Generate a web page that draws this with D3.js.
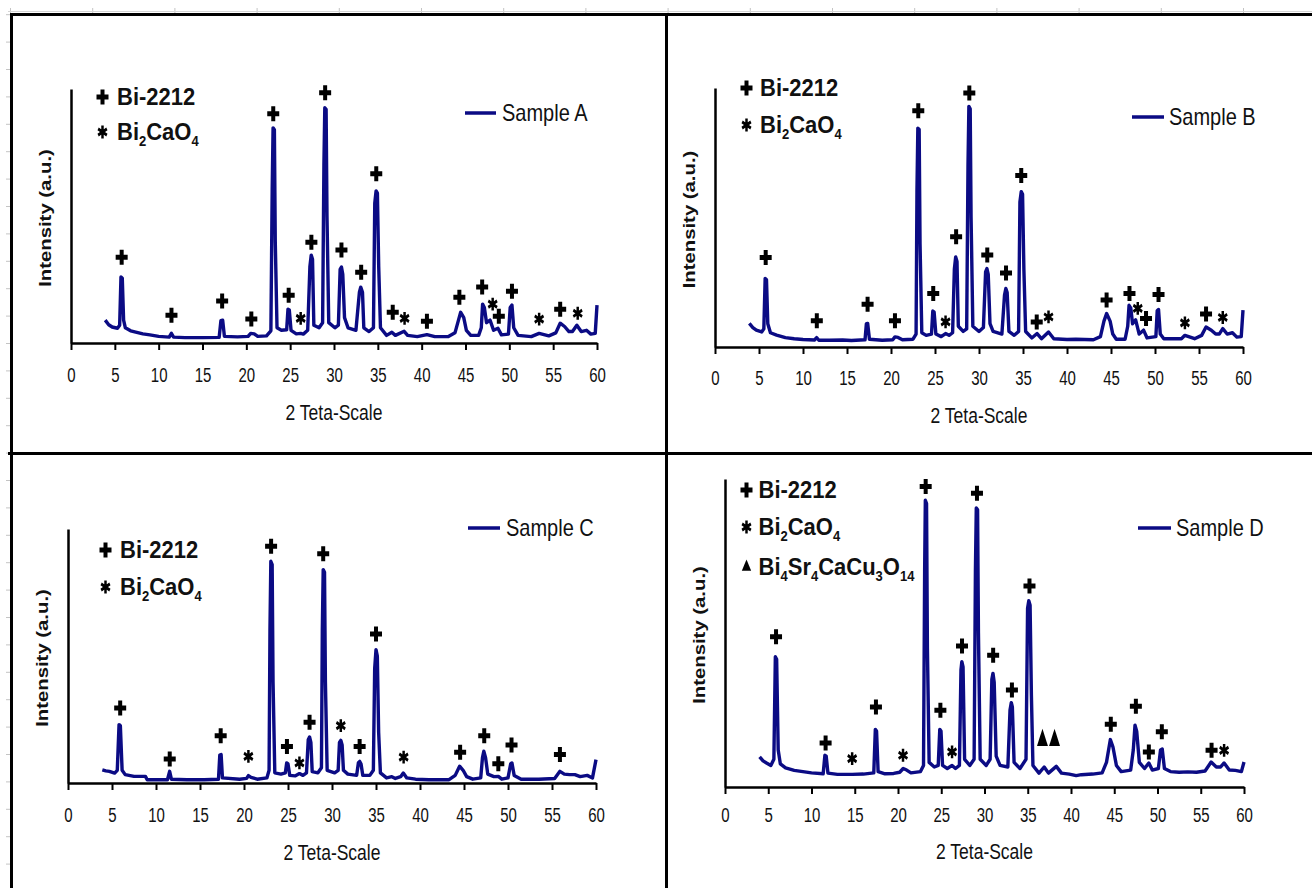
<!DOCTYPE html>
<html>
<head>
<meta charset="utf-8">
<script src="https://cdn.jsdelivr.net/npm/d3@7"></script>
<style>
  html, body { margin: 0; padding: 0; background: #fff; }
  svg { display: block; }
</style>
</head>
<body>
<div id="chart"></div>
<script>
// ---- data (2θ in degrees, intensity in a.u. 0-100 of each axis) ----
const tickValues = [0, 5, 10, 15, 20, 25, 30, 35, 40, 45, 50, 55, 60];
const sampleNames = ["Sample A", "Sample B", "Sample C", "Sample D"];
const xTitle = "2 Teta-Scale";
const yTitle = "Intensity (a.u.)";

const patternA = [
  [3.9, 9.0], [4.3, 7.2], [4.7, 6.3], [5.3, 5.8], [5.55, 7], [5.7, 26.0], [5.85, 25.5], [6.0, 9], [6.2, 6.0],
  [6.8, 4.8], [7.5, 4.2], [8.2, 3.6], [9.0, 3.2], [10.0, 2.6], [11.2, 2.3], [11.45, 3.8], [11.7, 2.3], [13, 2.1],
  [15, 2.1], [16.9, 2.2], [17.1, 8.8], [17.3, 9.0], [17.5, 2.6], [19, 2.4], [20.2, 2.6], [20.5, 3.8], [20.9, 3.6],
  [21.3, 2.6], [22.3, 2.8], [22.8, 4.8], [22.95, 60], [23.05, 84.7], [23.2, 84], [23.3, 40], [23.5, 6], [24.0, 5],
  [24.6, 5.2], [24.75, 13.3], [24.9, 13], [25.1, 5], [25.7, 3.6], [26.2, 3.8], [26.5, 3.5], [27.0, 5], [27.25, 30],
  [27.4, 34.6], [27.55, 33], [27.7, 7], [28.3, 6], [28.7, 8], [28.85, 70], [28.95, 92.6], [29.1, 92], [29.2, 50],
  [29.4, 8], [30.1, 6], [30.5, 7], [30.7, 29], [30.85, 29.9], [31.0, 27], [31.2, 10], [31.6, 6], [32.5, 5],
  [32.9, 20], [33.05, 22.0], [33.25, 20], [33.4, 6], [34.0, 4.5], [34.5, 6], [34.65, 55], [34.8, 59.9], [34.95, 59],
  [35.1, 30], [35.3, 6], [36.0, 3], [36.6, 4.2], [37.0, 3], [38.0, 4.6], [38.4, 3], [39.5, 2.5], [40.6, 3.3],
  [41.5, 2.5], [43.0, 2.5], [43.8, 4], [44.2, 9], [44.45, 12.1], [44.8, 10], [45.1, 5], [45.6, 3], [46.5, 3],
  [46.8, 6], [46.95, 15.3], [47.15, 14], [47.4, 8], [47.8, 9], [48.2, 5], [48.7, 5.8], [49.1, 3.2], [49.9, 3.5],
  [50.1, 14], [50.3, 14.9], [50.5, 6], [51, 3], [52.5, 2.5], [53.4, 3.8], [54.5, 2.8], [55.3, 4], [55.8, 7.8],
  [56.3, 6.5], [56.8, 4.5], [57.2, 4.5], [57.7, 7], [58.2, 4.5], [58.8, 5], [59.3, 3.5], [59.8, 3.8], [60.0, 14.9]
];
const markersA = [
  [5.78, 33.8, "+"], [11.46, 10.9, "+"], [17.24, 16.5, "+"], [20.57, 9.4, "+"], [23.07, 90.3, "+"],
  [24.83, 18.8, "+"], [26.2, 9.7, "*"], [27.42, 39.7, "+"], [28.99, 98.5, "+"], [30.85, 36.6, "+"],
  [33.1, 27.9, "+"], [34.82, 66.6, "+"], [36.7, 12.1, "+"], [38.05, 9.7, "*"], [40.6, 8.6, "+"],
  [44.3, 18.0, "+"], [46.9, 22.0, "+"], [48.1, 15.3, "*"], [48.8, 10.5, "+"], [50.3, 20.4, "+"],
  [53.4, 9.4, "*"], [55.8, 13.3, "+"], [57.8, 11.7, "*"]
];

const patternB = [
  [3.9, 9.1], [4.3, 7.5], [4.7, 6.5], [5.3, 5.8], [5.55, 7], [5.7, 26.5], [5.85, 26], [6.0, 9], [6.3, 5.5],
  [7, 4.6], [8, 3.6], [9, 3.2], [10, 2.9], [11.3, 2.7], [11.55, 3.6], [11.8, 2.6], [13, 2.6], [14.5, 2.7],
  [15.5, 2.5], [17.05, 2.8], [17.2, 8.9], [17.35, 9.1], [17.55, 3], [19, 2.6], [20.2, 2.8], [20.45, 3.9],
  [20.8, 3.7], [21.3, 2.8], [22.5, 3], [22.85, 5], [22.95, 60], [23.05, 84.5], [23.2, 84], [23.3, 40], [23.5, 5.5],
  [24.0, 4.5], [24.6, 5], [24.75, 13.9], [24.9, 13.5], [25.1, 5], [25.7, 4], [26.2, 5.2], [26.6, 4.5], [27.0, 5.5],
  [27.2, 30], [27.35, 34.8], [27.5, 33], [27.65, 8], [28.2, 6], [28.6, 7], [28.75, 70], [28.85, 92.9], [29.0, 92],
  [29.1, 50], [29.3, 8], [30.0, 6], [30.5, 7.5], [30.75, 29], [30.9, 30.3], [31.05, 28], [31.25, 9], [31.6, 6],
  [32.6, 5], [32.9, 20], [33.05, 22.6], [33.2, 21], [33.4, 6], [34.0, 4.5], [34.5, 6], [34.65, 56], [34.8, 60.0],
  [34.95, 59], [35.1, 30], [35.3, 6], [36.0, 3.5], [36.6, 5.2], [37.1, 3.2], [37.9, 5.8], [38.5, 3.2], [40, 2.9],
  [41, 3.0], [43, 2.8], [43.8, 4], [44.2, 10], [44.5, 12.9], [44.9, 10], [45.2, 5], [45.6, 3], [46.6, 3],
  [46.9, 8], [47.05, 16.1], [47.25, 15], [47.45, 9], [47.8, 10.5], [48.2, 5], [48.7, 6.5], [49.1, 3.5],
  [50.1, 4], [50.25, 14], [50.4, 14.5], [50.6, 5], [51, 3.2], [53, 3.2], [53.4, 4.5], [54.5, 3.2], [55.3, 4.5],
  [55.8, 7.7], [56.4, 6.5], [56.9, 5], [57.3, 5], [57.7, 7.1], [58.2, 5], [58.8, 5.5], [59.3, 3.8], [59.8, 4],
  [60.0, 14.2]
];
const markersB = [
  [5.76, 34.6, "+"], [11.57, 10.1, "+"], [17.34, 16.5, "+"], [20.45, 10.1, "+"], [23.1, 91.2, "+"],
  [24.8, 20.7, "+"], [26.2, 9.7, "*"], [27.4, 42.6, "+"], [28.9, 98.1, "+"], [30.94, 35.5, "+"],
  [33.07, 28.6, "+"], [34.8, 66.2, "+"], [36.56, 9.7, "+"], [37.9, 11.6, "*"], [44.5, 18.1, "+"],
  [47.1, 20.7, "+"], [48.04, 14.9, "*"], [48.98, 11.0, "+"], [50.4, 20.3, "+"], [53.4, 9.3, "*"],
  [55.8, 12.7, "+"], [57.7, 11.4, "*"]
];

const patternC = [
  [3.9, 5.2], [4.3, 4.8], [4.7, 4.6], [5.3, 3.9], [5.6, 5], [5.8, 23.0], [5.95, 22.5], [6.15, 5], [6.5, 3.3],
  [7.5, 2.6], [8.8, 2.6], [9.0, 1.3], [11.3, 1.3], [11.55, 4.6], [11.75, 1.5], [13.5, 1.3], [15.5, 1.3],
  [17.1, 1.5], [17.25, 11], [17.4, 11.2], [17.55, 2], [19.5, 1.5], [20.3, 1.8], [20.5, 2.9], [20.8, 2.2],
  [21.5, 1.5], [22.6, 2], [22.85, 5], [22.95, 60], [23.05, 87.3], [23.2, 86], [23.3, 40], [23.5, 4], [24.2, 3.5],
  [24.7, 4], [24.85, 7.9], [25.0, 7.5], [25.2, 3], [25.8, 2.8], [26.3, 3.7], [26.7, 3], [27.1, 4], [27.3, 17],
  [27.45, 18.1], [27.6, 16], [27.75, 4.5], [28.4, 4], [28.8, 6], [28.9, 60], [29.0, 84.0], [29.15, 83],
  [29.25, 40], [29.45, 5], [30.3, 4], [30.7, 5], [30.85, 16], [31.0, 16.8], [31.15, 15], [31.3, 5], [31.8, 3.5],
  [32.8, 3], [33.0, 8], [33.15, 8.5], [33.3, 7.5], [33.5, 3], [34.3, 3], [34.7, 5], [34.85, 45], [35.0, 52.5],
  [35.15, 50], [35.3, 20], [35.5, 4], [36.2, 2], [36.8, 2.5], [37.2, 1.8], [37.8, 2.5], [38.1, 3.9], [38.5, 2],
  [39.5, 1.5], [41, 1.3], [43.3, 1.3], [44.0, 3], [44.5, 6.6], [44.9, 5], [45.3, 2.5], [46.0, 1.5], [46.9, 2],
  [47.1, 10], [47.25, 12.5], [47.45, 10], [47.7, 3.5], [48.4, 2.5], [48.9, 2.6], [49.3, 1.5], [50.0, 2],
  [50.3, 7.5], [50.45, 7.9], [50.7, 3], [51.5, 1.5], [53.5, 1.5], [55.3, 1.8], [55.9, 4.6], [56.4, 3.5],
  [57.0, 3.3], [57.6, 3.3], [58.2, 2.5], [59.0, 3], [59.6, 2], [60.0, 9.2]
];
const markersC = [
  [5.93, 29.5, "+"], [11.56, 9.4, "+"], [17.35, 18.6, "+"], [20.5, 10.5, "*"], [23.08, 93.2, "+"],
  [24.88, 14.4, "+"], [26.3, 7.9, "*"], [27.45, 23.9, "+"], [29.0, 90.3, "+"], [31.0, 22.6, "*"],
  [33.14, 14.4, "+"], [35.0, 58.7, "+"], [38.14, 10.2, "*"], [44.56, 12.1, "+"], [47.3, 18.6, "+"],
  [48.9, 7.6, "+"], [50.4, 15.0, "+"], [55.9, 11.2, "+"]
];

const patternD = [
  [4.0, 9.8], [4.4, 8.5], [4.8, 7.8], [5.3, 7.0], [5.65, 9], [5.82, 42.3], [5.97, 41.5], [6.15, 12], [6.4, 7.5],
  [7.0, 6.2], [8.0, 5.4], [9.0, 5.0], [10.0, 4.6], [11.35, 4.3], [11.55, 10.3], [11.7, 10], [11.9, 4.5],
  [13.0, 4.1], [14.7, 4.1], [16.0, 4.2], [17.2, 4.6], [17.38, 18.7], [17.52, 18.2], [17.7, 5], [18.5, 4.3],
  [19.5, 4.4], [20.2, 4.8], [20.6, 6.0], [21.0, 5.5], [21.5, 4.6], [22.6, 5], [22.95, 7], [23.08, 70],
  [23.16, 93.1], [23.3, 92], [23.4, 45], [23.6, 8], [24.2, 6.5], [24.65, 7], [24.83, 18.7], [24.97, 18.2],
  [25.15, 7], [25.7, 6], [26.25, 7.0], [26.65, 6], [27.1, 7], [27.28, 38], [27.38, 40.7], [27.52, 39], [27.7, 9],
  [28.3, 7], [28.8, 9], [28.95, 70], [29.05, 90.6], [29.2, 90], [29.3, 50], [29.5, 9], [30.2, 7], [30.65, 9],
  [30.85, 35], [30.98, 36.9], [31.12, 34], [31.35, 10], [31.8, 7], [32.7, 6.5], [32.95, 25], [33.1, 27.4],
  [33.22, 26], [33.42, 8], [34.1, 6], [34.8, 9], [34.98, 58], [35.12, 60.5], [35.27, 59], [35.42, 30], [35.6, 7],
  [36.3, 4.5], [36.9, 6.5], [37.4, 4.5], [38.3, 6.7], [38.9, 4.5], [39.8, 4.2], [40.6, 3.7], [41.2, 4.0],
  [42.5, 4.2], [43.6, 4.6], [44.1, 8], [44.55, 15.4], [44.85, 13], [45.25, 7], [45.8, 5], [46.9, 5.5], [47.2, 12],
  [47.4, 20.1], [47.6, 18], [47.9, 8], [48.5, 6], [49.0, 7.8], [49.4, 5.5], [50.1, 6], [50.35, 12], [50.55, 12.3],
  [50.8, 6], [51.5, 5], [52.5, 4.8], [53.5, 4.9], [54.5, 4.8], [55.5, 5.2], [56.2, 8.1], [56.8, 6.5], [57.3, 6.5],
  [57.7, 7.8], [58.3, 5.5], [59.0, 5.4], [59.7, 5], [60.0, 8.1]
];
const markersD = [
  [5.9, 48.8, "+"], [11.63, 14.3, "+"], [14.7, 9.2, "*"], [17.45, 26.0, "+"], [20.58, 10.3, "*"],
  [23.2, 97.6, "+"], [24.9, 24.9, "+"], [26.25, 11.4, "*"], [27.4, 45.8, "+"], [29.13, 95.4, "+"],
  [31.0, 42.8, "+"], [33.17, 31.5, "+"], [35.2, 65.3, "+"], [36.7, 15.2, "^"], [38.1, 15.2, "^"],
  [44.6, 20.4, "+"], [47.5, 26.2, "+"], [49.0, 11.4, "+"], [50.5, 17.9, "+"], [56.25, 11.9, "+"],
  [57.7, 11.9, "*"]
];

// phase legend labels: [text, isSubscript]
const phaseLabels = {
  "+": [["Bi-2212", false]],
  "*": [["Bi", false], ["2", true], ["CaO", false], ["4", true]],
  "^": [["Bi", false], ["4", true], ["Sr", false], ["4", true], ["CaCu", false], ["3", true], ["O", false], ["14", true]]
};

// ---- layout ----
const FONT = '"Liberation Sans", Arial, Helvetica, sans-serif';
const NAVY = "#0b0b84";
const W = 1312, H = 888;

const panels = [
  { name: sampleNames[0], data: patternA, marks: markersA, x0: 71, x1: 597, y0: 343, y1: 89,
    tickOff: 39, titleOff: 77, sample: [465, 496, 113, 502], leg: [102.5, 117, [105, 140]], phases: ["+", "*"] },
  { name: sampleNames[1], data: patternB, marks: markersB, x0: 715, x1: 1243, y0: 347, y1: 88,
    tickOff: 38, titleOff: 76, sample: [1132, 1164, 117, 1169], leg: [746.5, 760, [96, 133]], phases: ["+", "*"] },
  { name: sampleNames[2], data: patternC, marks: markersC, x0: 68, x1: 596, y0: 783, y1: 529,
    tickOff: 39, titleOff: 77, sample: [468, 500, 528, 506], leg: [105.5, 120, [558, 595]], phases: ["+", "*"] },
  { name: sampleNames[3], data: patternD, marks: markersD, x0: 725, x1: 1244, y0: 787, y1: 479,
    tickOff: 35, titleOff: 72, sample: [1138, 1171, 528, 1176], leg: [746.5, 758.5, [498, 535, 575]], phases: ["+", "*", "^"] }
];

const svg = d3.select("#chart").append("svg")
  .attr("width", W).attr("height", H)
  .attr("viewBox", [0, 0, W, H]);

// sheet frame with faint ruler ticks
const frame = svg.append("g");
frame.selectAll("line.rt").data(d3.range(0, 17)).join("line").attr("class", "rt")
  .attr("x1", k => 10.5 + 82.2 * k).attr("x2", k => 10.5 + 82.2 * k)
  .attr("y1", 8).attr("y2", 13).attr("stroke", "#c4c4c4");
frame.selectAll("line.lt").data(d3.range(0, 32)).join("line").attr("class", "lt")
  .attr("x1", 6).attr("x2", 10)
  .attr("y1", k => 14.7 + 27.4 * k).attr("y2", k => 14.7 + 27.4 * k).attr("stroke", "#c4c4c4");
frame.append("line").attr("x1", 8).attr("x2", W).attr("y1", 11.5).attr("y2", 11.5).attr("stroke", "#d4d4d4");
frame.append("line").attr("x1", 10).attr("x2", W).attr("y1", 14.5).attr("y2", 14.5).attr("stroke", "#000").attr("stroke-width", 3);
frame.append("line").attr("x1", 11.5).attr("x2", 11.5).attr("y1", 13).attr("y2", H).attr("stroke", "#000").attr("stroke-width", 3);
frame.append("line").attr("x1", 666.5).attr("x2", 666.5).attr("y1", 13).attr("y2", H).attr("stroke", "#000").attr("stroke-width", 3);
frame.append("line").attr("x1", 8).attr("x2", W).attr("y1", 453.5).attr("y2", 453.5).attr("stroke", "#000").attr("stroke-width", 3);

const plusPath = d3.symbol(d3.symbolCross, 80)();
const starPath = d3.symbol(d3.symbolAsterisk, 80)();
const triPath = d3.symbol(d3.symbolTriangle, 52)();

function drawMarker(g, type, cx, cy, small) {
  if (type === "+") {
    g.append("path").attr("d", plusPath).attr("fill", "#000")
      .attr("transform", `translate(${cx},${cy}) scale(1,1.25)`);
  } else if (type === "*") {
    g.append("path").attr("d", starPath).attr("fill", "none").attr("stroke", "#000").attr("stroke-width", 2.6)
      .attr("transform", `translate(${cx},${cy}) scale(0.95,1.2)`);
  } else {
    g.append("path").attr("d", triPath).attr("fill", "#000")
      .attr("transform", `translate(${cx},${cy}) scale(${small ? 0.85 : 1},${small ? 1.2 : 1.8})`);
  }
}

function drawPanel(p) {
  const x = d3.scaleLinear().domain([0, 60]).range([p.x0, p.x1]);
  const y = d3.scaleLinear().domain([0, 100]).range([p.y0, p.y1]);
  const g = svg.append("g");

  // x axis
  const gx = g.append("g")
    .attr("transform", `translate(0,${p.y0})`)
    .call(d3.axisBottom(x).tickValues(tickValues).tickSize(7).tickSizeOuter(0))
    .attr("font-family", FONT).attr("font-size", 15);
  gx.select(".domain").attr("stroke", "#000").attr("stroke-width", 2.5);
  gx.selectAll(".tick line").attr("stroke", "#000").attr("stroke-width", 2);
  gx.selectAll(".tick text")
    .attr("y", 0).attr("dy", null).attr("fill", "#111")
    .attr("transform", `translate(0,${p.tickOff}) scale(1,1.3)`);

  // y axis (no ticks)
  const gy = g.append("g")
    .attr("transform", `translate(${p.x0},0)`)
    .call(d3.axisLeft(y).tickValues([]).tickSizeOuter(0));
  gy.select(".domain").attr("stroke", "#000").attr("stroke-width", 2.5);

  // axis titles
  g.append("text")
    .attr("transform", `translate(${(p.x0 + p.x1) / 2},${p.y0 + p.titleOff}) scale(1,1.25)`)
    .attr("text-anchor", "middle").attr("font-family", FONT).attr("font-size", 17.5).attr("fill", "#111")
    .text(xTitle);
  g.append("text")
    .attr("transform", `translate(${p.x0 - 26},${(p.y0 + p.y1) / 2 + 2}) scale(1,1.27) rotate(-90)`)
    .attr("text-anchor", "middle").attr("dy", "0.35em")
    .attr("font-family", FONT).attr("font-size", 16).attr("font-weight", "bold").attr("fill", "#111")
    .text(yTitle);

  // diffraction pattern
  const line = d3.line().x(d => x(d[0])).y(d => y(d[1]));
  g.append("path").datum(p.data)
    .attr("d", line)
    .attr("fill", "none").attr("stroke", NAVY).attr("stroke-width", 3.4)
    .attr("stroke-linejoin", "round");

  // phase markers above the peaks
  const gm = g.append("g");
  p.marks.forEach(m => drawMarker(gm, m[2], x(m[0]), y(m[1]), false));

  // series legend
  const [lx1, lx2, ly, tx] = p.sample;
  g.append("line").attr("x1", lx1).attr("x2", lx2).attr("y1", ly).attr("y2", ly)
    .attr("stroke", NAVY).attr("stroke-width", 3.5);
  g.append("text")
    .attr("transform", `translate(${tx},${ly}) scale(1,1.2)`)
    .attr("dy", "0.35em").attr("font-family", FONT).attr("font-size", 20).attr("fill", "#111")
    .text(p.name);

  // phase legend
  const [mx, txl, rows] = p.leg;
  p.phases.forEach((ph, i) => {
    drawMarker(g, ph, mx, rows[i] - 8, true);
    const t = g.append("text")
      .attr("transform", `translate(${txl},${rows[i]}) scale(1,1.12)`)
      .attr("font-family", FONT).attr("font-weight", "bold").attr("font-size", 22).attr("fill", "#111");
    let shifted = false;
    phaseLabels[ph].forEach(([s, sub]) => {
      const ts = t.append("tspan").text(s);
      if (sub) { ts.attr("font-size", 13); if (!shifted) ts.attr("dy", 5); shifted = true; }
      else if (shifted) { ts.attr("dy", -5); shifted = false; }
    });
  });
}

panels.forEach(drawPanel);
</script>
</body>
</html>
